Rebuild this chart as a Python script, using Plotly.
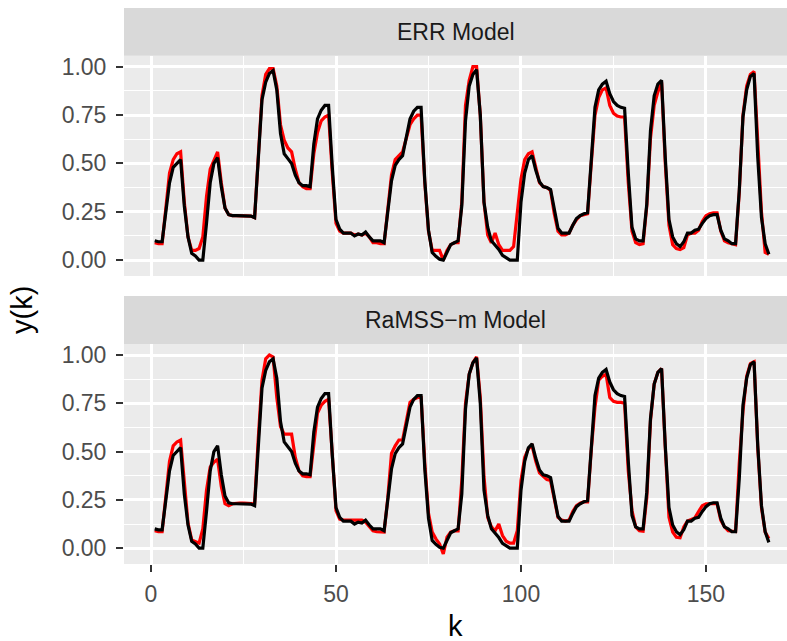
import plotly.graph_objects as go

k = list(range(1, 168))

y_meas = [0.10, 0.095, 0.095, 0.24, 0.40, 0.48, 0.50, 0.52, 0.28, 0.12,
          0.035, 0.022, 0.0, 0.0, 0.19, 0.40, 0.50, 0.53, 0.38, 0.27,
          0.235, 0.23, 0.23, 0.23, 0.23, 0.23, 0.228, 0.22, 0.52, 0.83,
          0.92, 0.965, 0.98, 0.88, 0.655, 0.55, 0.525, 0.50, 0.44, 0.40,
          0.385, 0.385, 0.38, 0.60, 0.73, 0.775, 0.80, 0.80, 0.48, 0.21,
          0.16, 0.14, 0.14, 0.14, 0.125, 0.135, 0.13, 0.145, 0.12, 0.10,
          0.10, 0.10, 0.09, 0.24, 0.41, 0.49, 0.52, 0.54, 0.64, 0.73,
          0.77, 0.79, 0.79, 0.41, 0.155, 0.04, 0.02, 0.005, 0.0, 0.04,
          0.08, 0.09, 0.10, 0.28, 0.72, 0.90, 0.96, 0.985, 0.75, 0.30,
          0.17, 0.10, 0.08, 0.055, 0.025, 0.01, 0.0, 0.0, 0.0, 0.30,
          0.45, 0.52, 0.54, 0.465, 0.405, 0.38, 0.375, 0.365, 0.26, 0.165,
          0.14, 0.14, 0.14, 0.18, 0.215, 0.23, 0.24, 0.245, 0.53, 0.79,
          0.88, 0.91, 0.925, 0.86, 0.82, 0.80, 0.79, 0.785, 0.45, 0.17,
          0.11, 0.10, 0.10, 0.29, 0.67, 0.85, 0.91, 0.93, 0.53, 0.21,
          0.12, 0.085, 0.07, 0.095, 0.14, 0.14, 0.155, 0.16, 0.19, 0.215,
          0.23, 0.235, 0.235, 0.155, 0.11, 0.10, 0.085, 0.085, 0.36, 0.74,
          0.88, 0.95, 0.965, 0.53, 0.22, 0.085, 0.03]

y_err = [0.09, 0.085, 0.085, 0.27, 0.45, 0.52, 0.55, 0.56, 0.30, 0.12,
         0.05, 0.05, 0.06, 0.12, 0.33, 0.47, 0.52, 0.56, 0.40, 0.27,
         0.235, 0.23, 0.23, 0.23, 0.23, 0.23, 0.228, 0.22, 0.55, 0.85,
         0.96, 0.99, 0.99, 0.90, 0.70, 0.62, 0.58, 0.56, 0.47, 0.40,
         0.38, 0.37, 0.37, 0.55, 0.66, 0.72, 0.74, 0.75, 0.45, 0.19,
         0.15, 0.14, 0.14, 0.14, 0.13, 0.135, 0.13, 0.14, 0.12, 0.09,
         0.09, 0.085, 0.085, 0.25, 0.44, 0.52, 0.54, 0.56, 0.63, 0.70,
         0.73, 0.75, 0.75, 0.40, 0.15, 0.05, 0.05, 0.05, 0.0, 0.05,
         0.08, 0.09, 0.09, 0.30, 0.80, 0.93, 1.0, 1.0, 0.75, 0.30,
         0.13, 0.09, 0.14, 0.08, 0.05, 0.05, 0.05, 0.07, 0.25, 0.42,
         0.52, 0.55, 0.56, 0.47, 0.40, 0.38, 0.375, 0.36, 0.24, 0.15,
         0.13, 0.13, 0.14, 0.18, 0.21, 0.23, 0.235, 0.24, 0.50, 0.75,
         0.84, 0.88, 0.89, 0.80, 0.76, 0.745, 0.74, 0.74, 0.40, 0.15,
         0.09, 0.08, 0.085, 0.28, 0.63, 0.80, 0.87, 0.92, 0.50, 0.18,
         0.08, 0.06, 0.055, 0.065, 0.13, 0.14, 0.14, 0.155, 0.20, 0.23,
         0.24, 0.245, 0.245, 0.15, 0.10, 0.09, 0.085, 0.08, 0.35, 0.75,
         0.90, 0.96, 0.975, 0.60, 0.25, 0.04, 0.03]

y_ramss = [0.09, 0.085, 0.085, 0.28, 0.45, 0.53, 0.55, 0.56, 0.32, 0.13,
           0.043, 0.036, 0.026, 0.10, 0.30, 0.42, 0.445, 0.46, 0.32, 0.23,
           0.22, 0.23, 0.233, 0.233, 0.233, 0.233, 0.233, 0.23, 0.57, 0.87,
           0.98, 1.0, 0.99, 0.78, 0.63, 0.59, 0.59, 0.59, 0.47, 0.40,
           0.375, 0.37, 0.37, 0.55, 0.70, 0.74, 0.76, 0.77, 0.45, 0.195,
           0.15, 0.145, 0.145, 0.145, 0.145, 0.145, 0.145, 0.135, 0.11, 0.09,
           0.085, 0.083, 0.083, 0.26, 0.49, 0.53, 0.56, 0.56, 0.66, 0.755,
           0.77, 0.78, 0.78, 0.44, 0.18, 0.083, 0.048, 0.022, -0.03, 0.057,
           0.083, 0.09, 0.09, 0.35, 0.75, 0.90, 0.96, 0.99, 0.78, 0.37,
           0.16, 0.11, 0.09, 0.125, 0.065, 0.036, 0.026, 0.026, 0.09, 0.35,
           0.47, 0.515, 0.53, 0.45, 0.39, 0.37, 0.355, 0.35, 0.25, 0.16,
           0.145, 0.14, 0.145, 0.19, 0.22, 0.233, 0.24, 0.24, 0.51, 0.73,
           0.87, 0.89, 0.90, 0.78, 0.76, 0.755, 0.755, 0.75, 0.40, 0.195,
           0.11, 0.09, 0.088, 0.26, 0.66, 0.85, 0.91, 0.93, 0.52, 0.16,
           0.083, 0.057, 0.054, 0.11, 0.14, 0.15, 0.157, 0.19, 0.22, 0.23,
           0.23, 0.233, 0.23, 0.145, 0.11, 0.09, 0.086, 0.086, 0.44, 0.71,
           0.89, 0.955, 0.965, 0.52, 0.21, 0.083, 0.05]

panel_titles = ["ERR Model", "RaMSS\u2212m Model"]
x_ticks = [0, 50, 100, 150]
x_minor = [25, 75, 125, 175]
y_ticks = [0.0, 0.25, 0.5, 0.75, 1.0]
y_ticklabels = ["0.00", "0.25", "0.50", "0.75", "1.00"]
y_minor = [0.125, 0.375, 0.625, 0.875]

W, H = 787, 641
ML, MR, MT, MB = 124, 0, 8, 77
plot_h = H - MT - MB

def py(pix):
    return (H - MB - pix) / plot_h

top_dom = [py(276), py(55.7)]
bot_dom = [py(564), py(344)]
top_strip = [py(55.7), py(8)]
bot_strip = [py(344), py(296)]

fig = go.Figure()
line_w = 3.2
for yref, xref, model in [("y", "x", y_err), ("y2", "x2", y_ramss)]:
    fig.add_trace(go.Scatter(x=k, y=model, mode="lines", xaxis=xref, yaxis=yref,
                             line=dict(color="#FF0000", width=line_w), showlegend=False))
    fig.add_trace(go.Scatter(x=k, y=y_meas, mode="lines", xaxis=xref, yaxis=yref,
                             line=dict(color="#000000", width=line_w), showlegend=False))

font_family = "Liberation Sans, Arial, sans-serif"
xr = [-7.3, 171.9]
yr = [-0.082, 1.057]

common_x = dict(range=xr, showgrid=True, gridcolor="white", gridwidth=2.6,
                tickvals=x_ticks, zeroline=False, showline=False,
                minor=dict(tickvals=x_minor, showgrid=True, gridcolor="white", gridwidth=1.3, ticks=""))
common_y = dict(range=yr, showgrid=True, gridcolor="white", gridwidth=2.6,
                tickvals=y_ticks, ticktext=y_ticklabels, zeroline=False, showline=False,
                ticks="outside", ticklen=7, tickwidth=1.6, tickcolor="#333333",
                ticklabelstandoff=5,
                tickfont=dict(size=23, color="#4D4D4D", family=font_family),
                minor=dict(tickvals=y_minor, showgrid=True, gridcolor="white", gridwidth=1.3, ticks=""))

fig.update_layout(
    width=W, height=H,
    margin=dict(l=ML, r=MR, t=MT, b=MB, pad=0),
    paper_bgcolor="white", plot_bgcolor="#EBEBEB",
    font=dict(family=font_family),
    xaxis=dict(domain=[0, 1], anchor="y", showticklabels=False, ticks="", **common_x),
    yaxis=dict(domain=top_dom, anchor="x", **common_y),
    xaxis2=dict(domain=[0, 1], anchor="y2", showticklabels=True, ticks="outside",
                ticklen=7, tickwidth=1.6, tickcolor="#333333", ticklabelstandoff=2,
                tickfont=dict(size=23, color="#4D4D4D", family=font_family), **common_x),
    yaxis2=dict(domain=bot_dom, anchor="x2", **common_y),
    showlegend=False,
)

shapes = []
annotations = []
for dom, title in [(top_strip, panel_titles[0]), (bot_strip, panel_titles[1])]:
    shapes.append(dict(type="rect", xref="paper", yref="paper", x0=0, x1=1,
                       y0=dom[0], y1=dom[1], fillcolor="#D9D9D9", line=dict(width=0), layer="below"))
    annotations.append(dict(text=title, xref="paper", yref="paper", x=0.5, y=(dom[0] + dom[1]) / 2,
                            showarrow=False, xanchor="center", yanchor="middle",
                            font=dict(size=23, color="#1A1A1A", family=font_family)))

annotations.append(dict(text="k", xref="paper", yref="paper", x=0.5, y=py(626),
                        showarrow=False, xanchor="center", yanchor="middle",
                        font=dict(size=29, color="black", family=font_family)))
annotations.append(dict(text="y(k)", xref="paper", yref="paper", x=(22 - ML) / (W - ML - MR),
                        y=py(310), showarrow=False, xanchor="center", yanchor="middle", textangle=-90,
                        font=dict(size=29, color="black", family=font_family)))

fig.update_layout(shapes=shapes, annotations=annotations)
fig.write_html("out.html")
